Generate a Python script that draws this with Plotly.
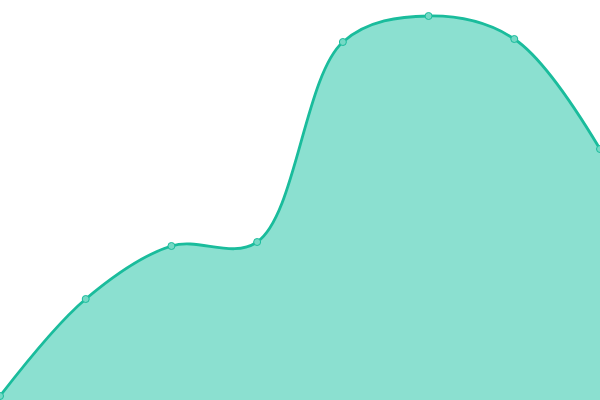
import plotly.graph_objects as go

# data (8 equally spaced points)
xVals = [0, 1, 2, 3, 4, 5, 6, 7]
yVals = [4, 101, 154, 158, 358, 384, 361, 251]

lineColor = "#1abc9c"
fillColor = "#8be0d0"

fig = go.Figure()
fig.add_trace(go.Scatter(
    x=xVals, y=yVals, mode="lines+markers",
    line=dict(color=lineColor, width=2.8, shape="spline", smoothing=1.0),
    fill="tozeroy", fillcolor=fillColor,
    marker=dict(size=7, color="#74d9c5", line=dict(color=lineColor, width=1)),
    cliponaxis=False, showlegend=False, hoverinfo="skip",
))

fig.update_xaxes(visible=False, range=[0, 7])
fig.update_yaxes(visible=False, range=[0, 400])
fig.update_layout(
    width=600, height=400,
    margin=dict(l=0, r=0, t=0, b=0),
    paper_bgcolor="white", plot_bgcolor="white",
)

# drop the default page margin so the chart fills the window
fig.write_html("out.html", config={"displayModeBar": False},
               post_script="document.body.style.margin='0';")
